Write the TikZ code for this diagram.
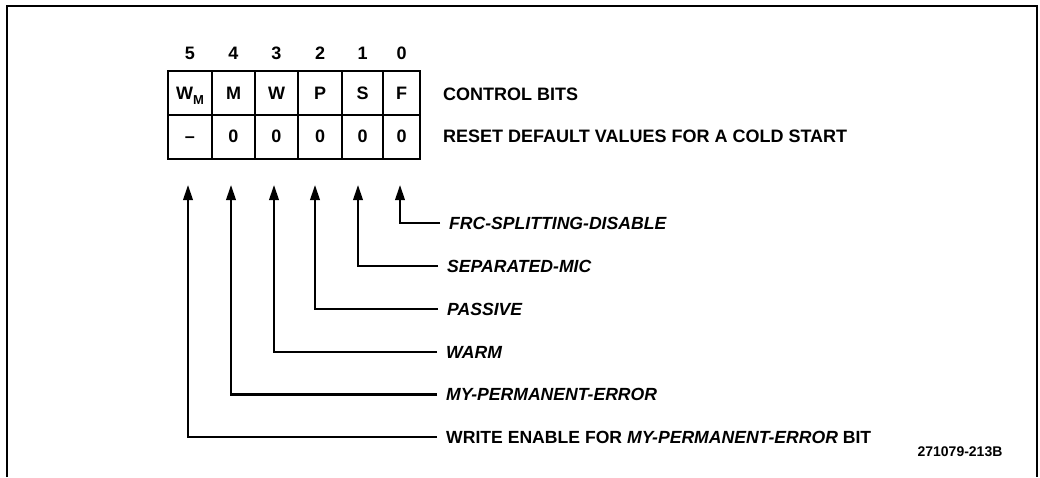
\documentclass[tikz,border=0pt]{standalone}
\usepackage{fontspec}
\setmainfont{Liberation Sans}
\usetikzlibrary{arrows.meta}
\begin{document}
\begin{tikzpicture}[x=1pt,y=-1pt,
  cell/.style={draw,line width=2pt,rectangle,inner sep=0pt,minimum height=44pt,text height=12.5pt,text depth=0pt,font=\fontsize{18}{18}\selectfont\bfseries},
  bitnum/.style={font=\fontsize{18}{18}\selectfont\bfseries,inner sep=0pt},
  hdr/.style={font=\fontsize{18}{18}\selectfont\bfseries,anchor=west,inner sep=0pt},
  lbl/.style={font=\fontsize{17.6}{18}\selectfont\bfseries\itshape,anchor=west,inner xsep=9pt,inner ysep=0pt},
  conn/.style={line width=2.2pt,-{Triangle[length=15pt,width=9.5pt]}},
  frame/.style={line width=2.2pt}]
\useasboundingbox (0,0) rectangle (1040,477);
\draw[frame] (7,477) -- (7,6) -- (1037,6) -- (1037,477);
% cells
\foreach \nm/\xa/\xb/\txt in {c5/168/212/{W\raisebox{-0.55ex}{\fontsize{13}{13}\selectfont M}},c4/212/255/M,c3/255/298/W,c2/298/342/P,c1/342/383/S,c0/383/420/F}{
  \node[cell,minimum width={\xb-\xa}] (\nm) at ({(\xa+\xb)/2},93) {\txt};
}
\foreach \nm/\xa/\xb/\txt in {d5/168/212/{--},d4/212/255/0,d3/255/298/0,d2/298/342/0,d1/342/383/0,d0/383/420/0}{
  \node[cell,minimum width={\xb-\xa}] (\nm) at ({(\xa+\xb)/2},136.5) {\txt};
}
% bit numbers
\node[bitnum] (b5) at (190,53) {5};
\node[bitnum] (b4) at (233.5,53) {4};
\node[bitnum] (b3) at (276.5,53) {3};
\node[bitnum] (b2) at (320,53) {2};
\node[bitnum] (b1) at (362.5,53) {1};
\node[bitnum] (b0) at (401.5,53) {0};
% headers
\node[hdr] (h1) at (443,94) {CONTROL BITS};
\node[hdr] (h2) at (443,136) {RESET DEFAULT VALUES FOR A COLD START};
% arrow tips
\coordinate (t5) at (188,185);
\coordinate (t4) at (231,185);
\coordinate (t3) at (274,185);
\coordinate (t2) at (315,185);
\coordinate (t1) at (358,185);
\coordinate (t0) at (400,185);
% labels
\node[lbl] (l0) at (440,223) {FRC-SPLITTING-DISABLE};
\node[lbl] (l1) at (438,266) {SEPARATED-MIC};
\node[lbl] (l2) at (438,309) {PASSIVE};
\node[lbl] (l3) at (437,352) {WARM};
\node[lbl,font=\fontsize{17.6}{18}\selectfont\bfseries] (l5) at (437,437) {WRITE ENABLE FOR \textit{MY-PERMANENT-ERROR} BIT};
\node[lbl] (l4) at (437,394.5) {MY-PERMANENT-ERROR};
\foreach \i in {0,...,5}{
  \draw[conn] (l\i.west) -| (t\i);
}
\node[font=\fontsize{14}{14}\selectfont\bfseries,inner sep=0pt] (id) at (960,452) {271079-213B};
\end{tikzpicture}
\end{document}
